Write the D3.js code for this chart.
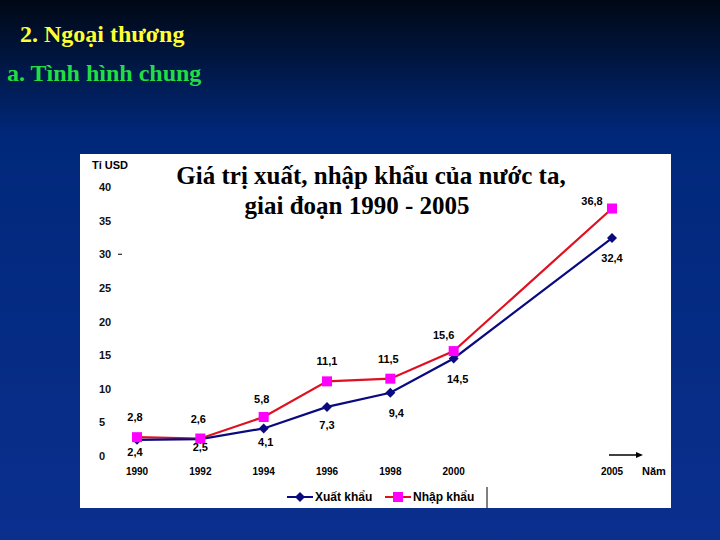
<!DOCTYPE html>
<html><head><meta charset="utf-8">
<script src="https://cdn.jsdelivr.net/npm/d3@7"></script>
<style>body{margin:0;overflow:hidden}svg{display:block}</style>
</head><body>
<script>
const years = [1990, 1992, 1994, 1996, 1998, 2000, 2005];
const exportVals = [2.4, 2.5, 4.1, 7.3, 9.4, 14.5, 32.4];
const importVals = [2.8, 2.6, 5.8, 11.1, 11.5, 15.6, 36.8];
const yTicks = [0, 5, 10, 15, 20, 25, 30, 35, 40];
const exportLabels = ['2,4', '2,5', '4,1', '7,3', '9,4', '14,5', '32,4'];
const importLabels = ['2,8', '2,6', '5,8', '11,1', '11,5', '15,6', '36,8'];
// label offsets (dx, dy) from point
const exportOff = [[-2, 16], [0, 12], [2, 18], [0, 22], [6, 24], [4, 25], [0, 24]];
const importOff = [[-2, -16], [-2, -16], [-2, -14], [0, -16], [-2, -16], [-10, -12], [-20, -4]];

const W = 720, H = 540;
const svg = d3.select('body').append('svg').attr('width', W).attr('height', H);

const grad = svg.append('defs').append('linearGradient').attr('id', 'bg')
  .attr('x1', 0).attr('y1', 0).attr('x2', 0).attr('y2', 1);
grad.append('stop').attr('offset', '0%').attr('stop-color', '#000814');
grad.append('stop').attr('offset', '25%').attr('stop-color', '#00287a');
grad.append('stop').attr('offset', '100%').attr('stop-color', '#0a2f8e');
svg.append('rect').attr('width', W).attr('height', H).attr('fill', 'url(#bg)');

svg.append('text').attr('x', 20).attr('y', 42).attr('fill', '#ffff33')
  .style('font', 'bold 24px "Liberation Serif"').text('2. Ngoại thương');
svg.append('text').attr('x', 7).attr('y', 81).attr('fill', '#22dd44')
  .style('font', 'bold 24px "Liberation Serif"').text('a. Tình hình chung');

svg.append('rect').attr('x', 80).attr('y', 154).attr('width', 591).attr('height', 354).attr('fill', '#fff');

const x = d3.scaleLinear().domain([1990, 2005]).range([137, 612]);
const y = d3.scaleLinear().domain([0, 40]).range([456, 187]);

const lab = 'bold 11px "Liberation Sans", Arial';
svg.append('g').selectAll('text').data(yTicks).join('text')
  .attr('x', 99).attr('y', d => y(d) + 4).style('font', lab).attr('fill', '#111')
  .text(d => d);
svg.append('line').attr('x1', 118).attr('x2', 122).attr('y1', y(30)).attr('y2', y(30)).attr('stroke', '#000');
svg.append('text').attr('x', 92).attr('y', 169).style('font', lab).text('Tỉ USD');
svg.append('g').selectAll('text').data(years).join('text')
  .attr('x', d => x(d)).attr('y', 475).attr('text-anchor', 'middle')
  .style('font', 'bold 10px "Liberation Sans", Arial').text(d => d);
svg.append('text').attr('x', 642).attr('y', 475).style('font', lab).text('Năm');
svg.append('line').attr('x1', 609).attr('x2', 640).attr('y1', 455).attr('y2', 455).attr('stroke', '#000').attr('stroke-width', 1.5);
svg.append('path').attr('d', 'M643,455 L636,452 L636,458 Z');

svg.append('text').attr('x', 371).attr('y', 184).attr('text-anchor', 'middle')
  .style('font', 'bold 25px "Liberation Serif"').text('Giá trị xuất, nhập khẩu của nước ta,');
svg.append('text').attr('x', 357).attr('y', 214).attr('text-anchor', 'middle')
  .style('font', 'bold 25px "Liberation Serif"').text('giai đoạn 1990 - 2005');

const line = d3.line().x((d, i) => x(years[i])).y(d => y(d));
svg.append('path').datum(importVals).attr('d', line).attr('fill', 'none').attr('stroke', '#e01020').attr('stroke-width', 2.2);
svg.append('path').datum(exportVals).attr('d', line).attr('fill', 'none').attr('stroke', '#0a0a80').attr('stroke-width', 2.2);

const diamond = 'M0,-5L5,0L0,5L-5,0Z';
svg.append('g').selectAll('path').data(exportVals).join('path')
  .attr('transform', (d, i) => `translate(${x(years[i])},${y(d)})`).attr('d', diamond).attr('fill', '#0a0a80');
svg.append('g').selectAll('rect').data(importVals).join('rect')
  .attr('x', (d, i) => x(years[i]) - 5).attr('y', d => y(d) - 5).attr('width', 10).attr('height', 10).attr('fill', '#ff00ff');

svg.append('g').selectAll('text').data(exportLabels).join('text')
  .attr('x', (d, i) => x(years[i]) + exportOff[i][0]).attr('y', (d, i) => y(exportVals[i]) + exportOff[i][1])
  .attr('text-anchor', 'middle').style('font', lab).text(d => d);
svg.append('g').selectAll('text').data(importLabels).join('text')
  .attr('x', (d, i) => x(years[i]) + importOff[i][0]).attr('y', (d, i) => y(importVals[i]) + importOff[i][1])
  .attr('text-anchor', 'middle').style('font', lab).text(d => d);

// legend
const lg = svg.append('g');
lg.append('line').attr('x1', 287).attr('x2', 313).attr('y1', 497).attr('y2', 497).attr('stroke', '#0a0a80').attr('stroke-width', 2);
lg.append('path').attr('transform', 'translate(300,497)').attr('d', diamond).attr('fill', '#0a0a80');
lg.append('text').attr('x', 315).attr('y', 501).style('font', 'bold 12px "Liberation Sans", Arial').text('Xuất khẩu');
lg.append('line').attr('x1', 385).attr('x2', 411).attr('y1', 497).attr('y2', 497).attr('stroke', '#e01020').attr('stroke-width', 2);
lg.append('rect').attr('x', 393).attr('y', 492).attr('width', 10).attr('height', 10).attr('fill', '#ff00ff');
lg.append('text').attr('x', 413).attr('y', 501).style('font', 'bold 12px "Liberation Sans", Arial').text('Nhập khẩu');
lg.append('line').attr('x1', 487).attr('x2', 487).attr('y1', 487).attr('y2', 508).attr('stroke', '#000');
</script>
</body></html>
